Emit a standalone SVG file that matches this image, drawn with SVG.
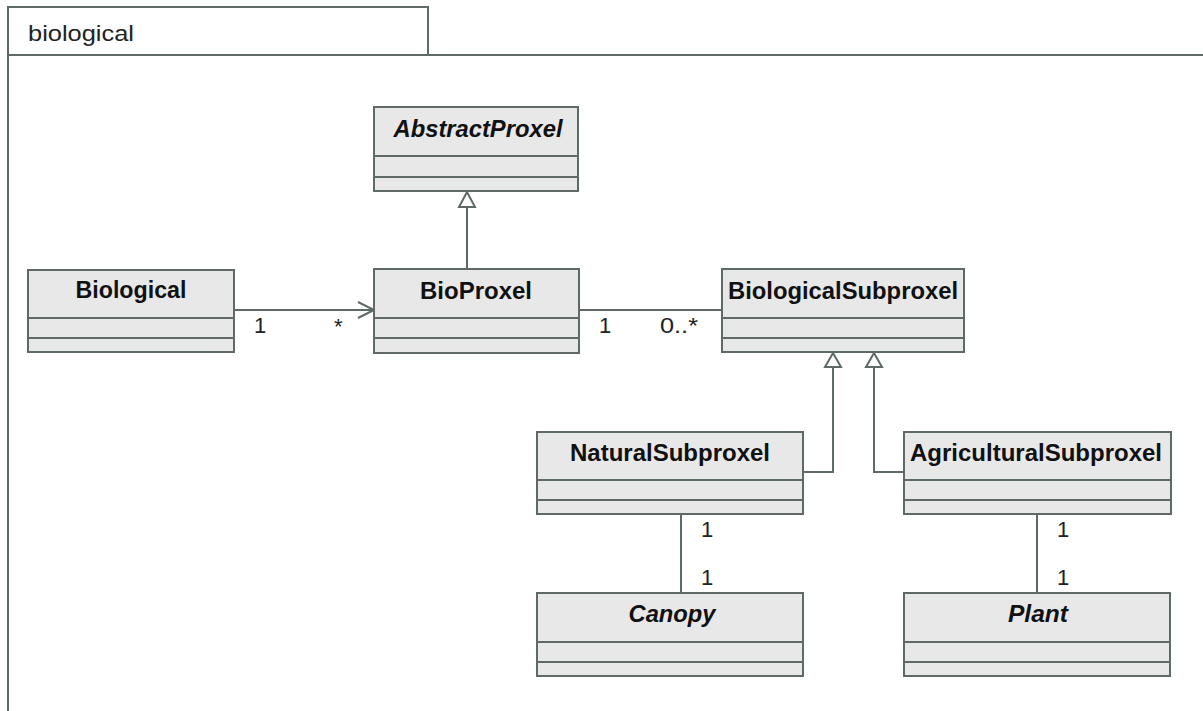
<svg xmlns="http://www.w3.org/2000/svg" width="1203" height="711" viewBox="0 0 1203 711">
  <defs>
    <style>
      .frame { fill: none; stroke: #5f6967; stroke-width: 2; }
      .box { fill: #e8e8e8; stroke: #5f6967; stroke-width: 2; }
      .sep { stroke: #5f6967; stroke-width: 2; }
      .edge { fill: none; stroke: #5f6967; stroke-width: 2; }
      .gen { fill: #ffffff; stroke: #5f6967; stroke-width: 2; stroke-linejoin: miter; }
      .name { font-family: "Liberation Sans", Arial, sans-serif; font-size: 23.5px; font-weight: bold; fill: #111; text-anchor: middle; }
      .abstract { font-style: italic; }
      .mult { font-family: "Liberation Sans", Arial, sans-serif; font-size: 22px; fill: #222; }
      .pkg { font-family: "Liberation Sans", Arial, sans-serif; font-size: 22px; fill: #222; }
    </style>
  </defs>

  <rect width="1203" height="711" fill="#ffffff"/>

  <!-- package frame with tab -->
  <g id="package-biological">
    <path class="frame" d="M8,55 V7 H428 V55"/>
    <path class="frame" d="M8,711 V55 H1203"/>
    <text class="pkg" x="28" y="41" textLength="106" lengthAdjust="spacingAndGlyphs">biological</text>
  </g>

  <!-- connectors -->
  <g id="connectors">
    <!-- Biological -> BioProxel (navigable association) -->
    <line class="edge" x1="234" y1="310" x2="374" y2="310"/>
    <polyline class="edge" points="358,302 374,310 358,318"/>
    <text class="mult" x="254" y="333">1</text>
    <text class="mult" x="334" y="334">*</text>

    <!-- BioProxel - BiologicalSubproxel -->
    <line class="edge" x1="579" y1="310" x2="722" y2="310"/>
    <text class="mult" x="599" y="333">1</text>
    <text class="mult" x="660" y="333" textLength="38" lengthAdjust="spacingAndGlyphs">0..*</text>

    <!-- BioProxel generalizes AbstractProxel -->
    <line class="edge" x1="467" y1="269" x2="467" y2="207"/>
    <polygon class="gen" points="467,192 459,207 475,207"/>

    <!-- NaturalSubproxel generalizes BiologicalSubproxel -->
    <polyline class="edge" points="803,472 833,472 833,367"/>
    <polygon class="gen" points="833,353 825,367 841,367"/>

    <!-- AgriculturalSubproxel generalizes BiologicalSubproxel -->
    <polyline class="edge" points="904,472 874,472 874,367"/>
    <polygon class="gen" points="874,353 866,367 882,367"/>

    <!-- NaturalSubproxel - Canopy -->
    <line class="edge" x1="681" y1="514" x2="681" y2="593"/>
    <text class="mult" x="701" y="537">1</text>
    <text class="mult" x="701" y="585">1</text>

    <!-- AgriculturalSubproxel - Plant -->
    <line class="edge" x1="1037" y1="514" x2="1037" y2="593"/>
    <text class="mult" x="1057" y="537">1</text>
    <text class="mult" x="1057" y="585">1</text>
  </g>

  <!-- classes -->
  <g id="AbstractProxel">
    <rect class="box" x="374" y="107" width="204" height="84"/>
    <line class="sep" x1="374" y1="156" x2="578" y2="156"/>
    <line class="sep" x1="374" y1="177" x2="578" y2="177"/>
    <text class="name abstract" x="478" y="137" textLength="169" lengthAdjust="spacingAndGlyphs">AbstractProxel</text>
  </g>

  <g id="Biological">
    <rect class="box" x="28" y="270" width="206" height="82"/>
    <line class="sep" x1="28" y1="318" x2="234" y2="318"/>
    <line class="sep" x1="28" y1="338" x2="234" y2="338"/>
    <text class="name" x="131" y="298" textLength="111" lengthAdjust="spacingAndGlyphs">Biological</text>
  </g>

  <g id="BioProxel">
    <rect class="box" x="374" y="269" width="205" height="84"/>
    <line class="sep" x1="374" y1="318" x2="579" y2="318"/>
    <line class="sep" x1="374" y1="338" x2="579" y2="338"/>
    <text class="name" x="476" y="299" textLength="112" lengthAdjust="spacingAndGlyphs">BioProxel</text>
  </g>

  <g id="BiologicalSubproxel">
    <rect class="box" x="722" y="269" width="242" height="83"/>
    <line class="sep" x1="722" y1="318" x2="964" y2="318"/>
    <line class="sep" x1="722" y1="338" x2="964" y2="338"/>
    <text class="name" x="843" y="299" textLength="230" lengthAdjust="spacingAndGlyphs">BiologicalSubproxel</text>
  </g>

  <g id="NaturalSubproxel">
    <rect class="box" x="537" y="432" width="266" height="82"/>
    <line class="sep" x1="537" y1="480" x2="803" y2="480"/>
    <line class="sep" x1="537" y1="500" x2="803" y2="500"/>
    <text class="name" x="670" y="461" textLength="200" lengthAdjust="spacingAndGlyphs">NaturalSubproxel</text>
  </g>

  <g id="AgriculturalSubproxel">
    <rect class="box" x="904" y="432" width="267" height="82"/>
    <line class="sep" x1="904" y1="480" x2="1171" y2="480"/>
    <line class="sep" x1="904" y1="500" x2="1171" y2="500"/>
    <text class="name" x="1036" y="461" textLength="252" lengthAdjust="spacingAndGlyphs">AgriculturalSubproxel</text>
  </g>

  <g id="Canopy">
    <rect class="box" x="537" y="593" width="266" height="83"/>
    <line class="sep" x1="537" y1="642" x2="803" y2="642"/>
    <line class="sep" x1="537" y1="662" x2="803" y2="662"/>
    <text class="name abstract" x="672" y="622" textLength="87" lengthAdjust="spacingAndGlyphs">Canopy</text>
  </g>

  <g id="Plant">
    <rect class="box" x="904" y="593" width="266" height="83"/>
    <line class="sep" x1="904" y1="642" x2="1170" y2="642"/>
    <line class="sep" x1="904" y1="662" x2="1170" y2="662"/>
    <text class="name abstract" x="1038" y="622" textLength="60" lengthAdjust="spacingAndGlyphs">Plant</text>
  </g>
</svg>
